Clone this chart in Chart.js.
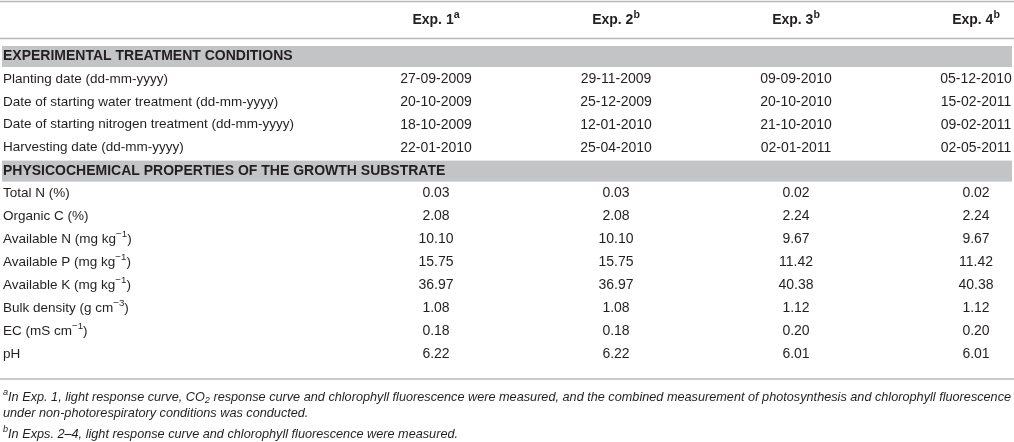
<!DOCTYPE html>
<html>
<head>
<meta charset="utf-8">
<script src="https://cdn.jsdelivr.net/npm/chart.js@4.4.1/dist/chart.umd.min.js"></script>
<style>
  html, body { margin: 0; padding: 0; background: #fff; }
  #wrap { width: 1014px; height: 442px; position: relative; }
</style>
</head>
<body>
<div id="wrap"><canvas id="tbl"></canvas></div>
<script>
// table content
const experiments = ['Exp. 1', 'Exp. 2', 'Exp. 3', 'Exp. 4'];
const expNotes = ['a', 'b', 'b', 'b'];

const treatmentTitle = 'EXPERIMENTAL TREATMENT CONDITIONS';
const treatmentLabels = [
  'Planting date (dd-mm-yyyy)',
  'Date of starting water treatment (dd-mm-yyyy)',
  'Date of starting nitrogen treatment (dd-mm-yyyy)',
  'Harvesting date (dd-mm-yyyy)'
];
const plantingDates = ['27-09-2009', '29-11-2009', '09-09-2010', '05-12-2010'];
const waterStart    = ['20-10-2009', '25-12-2009', '20-10-2010', '15-02-2011'];
const nitrogenStart = ['18-10-2009', '12-01-2010', '21-10-2010', '09-02-2011'];
const harvestDates  = ['22-01-2010', '25-04-2010', '02-01-2011', '02-05-2011'];

const substrateTitle = 'PHYSICOCHEMICAL PROPERTIES OF THE GROWTH SUBSTRATE';
const substrateLabels = [
  'Total N (%)',
  'Organic C (%)',
  'Available N (mg kg^{\u22121})',
  'Available P (mg kg^{\u22121})',
  'Available K (mg kg^{\u22121})',
  'Bulk density (g cm^{\u22123})',
  'EC (mS cm^{\u22121})',
  'pH'
];
const totalN      = [0.03, 0.03, 0.02, 0.02];
const organicC    = [2.08, 2.08, 2.24, 2.24];
const availableN  = [10.10, 10.10, 9.67, 9.67];
const availableP  = [15.75, 15.75, 11.42, 11.42];
const availableK  = [36.97, 36.97, 40.38, 40.38];
const bulkDensity = [1.08, 1.08, 1.12, 1.12];
const ecValues    = [0.18, 0.18, 0.20, 0.20];
const phValues    = [6.22, 6.22, 6.01, 6.01];

const footnotes = [
  '^{a}In Exp. 1, light response curve, CO_{2} response curve and chlorophyll fluorescence were measured, and the combined measurement of photosynthesis and chlorophyll fluorescence',
  'under non-photorespiratory conditions was conducted.',
  '^{b}In Exps. 2\u20134, light response curve and chlorophyll fluorescence were measured.'
];

// rows of the body, top to bottom
const rows = [
  { band: treatmentTitle },
  { label: treatmentLabels[0], cells: plantingDates },
  { label: treatmentLabels[1], cells: waterStart },
  { label: treatmentLabels[2], cells: nitrogenStart },
  { label: treatmentLabels[3], cells: harvestDates },
  { band: substrateTitle },
  { label: substrateLabels[0], cells: totalN.map(v => v.toFixed(2)) },
  { label: substrateLabels[1], cells: organicC.map(v => v.toFixed(2)) },
  { label: substrateLabels[2], cells: availableN.map(v => v.toFixed(2)) },
  { label: substrateLabels[3], cells: availableP.map(v => v.toFixed(2)) },
  { label: substrateLabels[4], cells: availableK.map(v => v.toFixed(2)) },
  { label: substrateLabels[5], cells: bulkDensity.map(v => v.toFixed(2)) },
  { label: substrateLabels[6], cells: ecValues.map(v => v.toFixed(2)) },
  { label: substrateLabels[7], cells: phValues.map(v => v.toFixed(2)) }
];

const FONT = "'Liberation Sans', Arial, Helvetica, sans-serif";
const INK = '#231f20';
const RULE = '#b9b9b9';
const BAND = '#c3c4c6';

// split "a^{b}c_{d}" into pieces
function parseRich(s) {
  const out = [];
  const re = /([\^_])\{([^}]*)\}/g;
  let last = 0, m;
  while ((m = re.exec(s)) !== null) {
    if (m.index > last) out.push({ t: s.slice(last, m.index), k: '' });
    out.push({ t: m[2], k: m[1] });
    last = re.lastIndex;
  }
  if (last < s.length) out.push({ t: s.slice(last), k: '' });
  return out;
}

function drawRich(ctx, s, x, y, align, style, size, supScale) {
  const parts = parseRich(s);
  const small = size * (supScale || 0.72);
  const fontFor = p => style + ' ' + (p.k ? small : size) + 'px ' + FONT;
  let total = 0;
  parts.forEach(p => { ctx.font = fontFor(p); p.w = ctx.measureText(p.t).width; total += p.w; });
  let cx = align === 'center' ? x - total / 2 : (align === 'right' ? x - total : x);
  ctx.textAlign = 'left';
  ctx.textBaseline = 'middle';
  parts.forEach(p => {
    ctx.font = fontFor(p);
    let dy = 0;
    if (p.k === '^') dy = -size * 0.36;
    if (p.k === '_') dy = size * 0.28;
    ctx.fillText(p.t, cx, y + dy);
    cx += p.w;
  });
}

const tablePlugin = {
  id: 'tablePlugin',
  afterDraw(chart) {
    const ctx = chart.ctx;
    const xs = chart.scales.x, ys = chart.scales.y;
    const W = chart.width;
    const step = ys.getPixelForValue(1) - ys.getPixelForValue(0);
    const headY = ys.getPixelForValue(0) - step * 1.55;
    ctx.save();

    // rules
    ctx.strokeStyle = RULE;
    ctx.lineWidth = 1.5;
    const rule = y => { ctx.beginPath(); ctx.moveTo(0, y); ctx.lineTo(W, y); ctx.stroke(); };
    rule(1.5);
    rule(headY + 18);
    rule(ys.getPixelForValue(rows.length - 1) + 25);

    // column heads
    ctx.fillStyle = INK;
    experiments.forEach((e, i) => {
      drawRich(ctx, e + '^{' + expNotes[i] + '}', xs.getPixelForValue(i), headY, 'center', 'bold', 14, 0.76);
    });

    // body
    rows.forEach((r, ri) => {
      const y = ys.getPixelForValue(ri);
      if (r.band) {
        ctx.fillStyle = BAND;
        ctx.fillRect(2, y - 10, W - 4, 21);
        ctx.fillStyle = INK;
        drawRich(ctx, r.band, 3, y + 0.5, 'left', 'bold', 14);
        return;
      }
      ctx.fillStyle = INK;
      drawRich(ctx, r.label, 3, y, 'left', 'normal', 13.5);
      r.cells.forEach((c, ci) => {
        drawRich(ctx, c, xs.getPixelForValue(ci), y, 'center', 'normal', 14);
      });
    });

    // footnotes
    const fy = ys.getPixelForValue(rows.length - 1);
    const footY = [fy + 43, fy + 59, fy + 80];
    footnotes.forEach((f, i) => drawRich(ctx, f, 3, footY[i], 'left', 'italic', 12.7));
    ctx.restore();
  }
};

new Chart(document.getElementById('tbl'), {
  type: 'line',
  data: { labels: experiments, datasets: [] },
  options: {
    responsive: true,
    maintainAspectRatio: false,
    animation: false,
    events: [],
    layout: { padding: { left: 436, right: 38, top: 56, bottom: 88 } },
    plugins: { legend: { display: false }, tooltip: { enabled: false } },
    scales: {
      x: { type: 'category', labels: experiments, offset: false, display: false },
      y: { type: 'category', labels: rows.map((r, i) => r.band || r.label), offset: false, display: false }
    }
  },
  plugins: [tablePlugin]
});
</script>
</body>
</html>
